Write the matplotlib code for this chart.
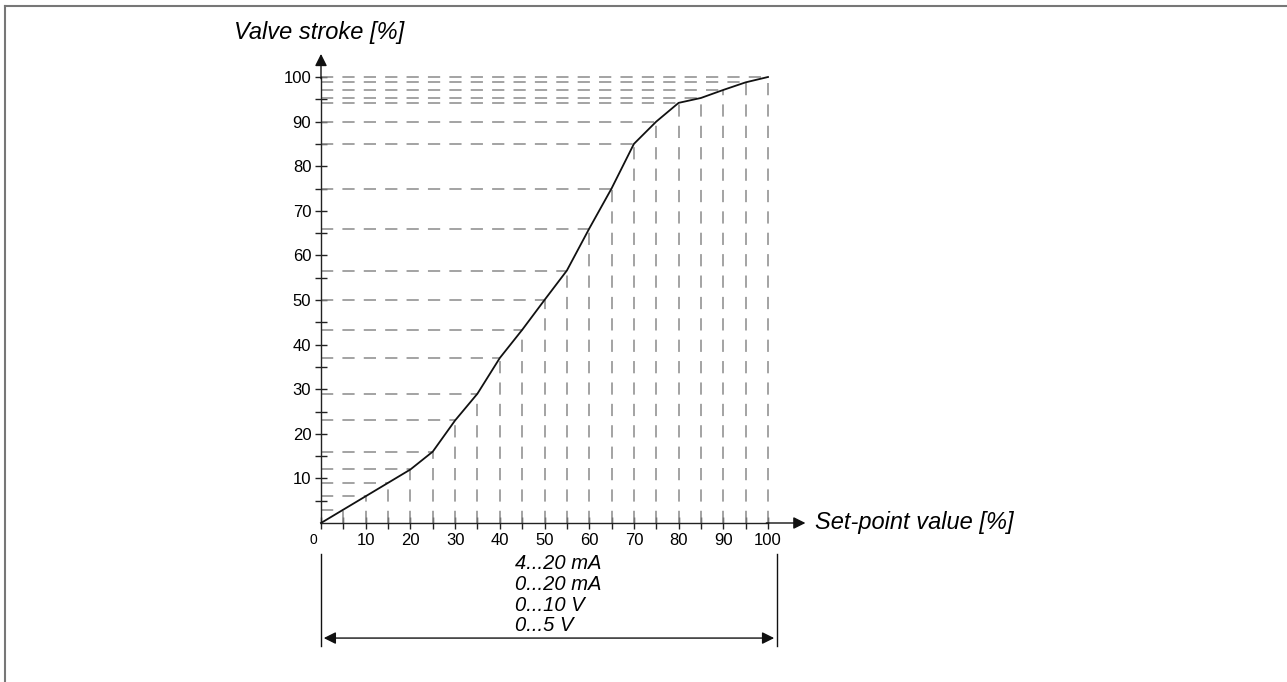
import numpy as np
import matplotlib.pyplot as plt
from matplotlib.lines import Line2D

plt.rcParams['font.family'] = ['Liberation Sans', 'DejaVu Sans']

# данні кривої (уставка -> хід клапана)
setpoint = [0, 5, 10, 15, 20, 25, 30, 35, 40, 45, 50, 55, 60, 65, 70, 75, 80, 85, 90, 95, 100]
stroke = [0, 3, 6, 9, 12, 16, 23, 29, 37, 43.3, 50, 56.6, 66, 75, 85, 90, 94.2, 95.3, 97.1, 98.8, 100]
x_ticks = list(range(0, 101, 5))
x_labels = ['' if v % 10 else str(v) for v in x_ticks]
x_labels[0] = ''
y_major = list(range(10, 101, 10))
y_minor = list(range(5, 101, 10))
signal_ranges = ['4...20 mA', '0...20 mA', '0...10 V', '0...5 V']

W, H = 1287, 682
fig = plt.figure(figsize=(W / 100, H / 100), dpi=100)

# рамка (тільки ліва і верхня)
fig.add_artist(Line2D([5 / W, 5 / W], [0, 1 - 6 / H], color='#777777', lw=1.5))
fig.add_artist(Line2D([5 / W, 1], [1 - 6 / H, 1 - 6 / H], color='#777777', lw=1.5))

x0, x1 = 321, 768
y0, y1 = 523, 77
ax = fig.add_axes([x0 / W, 1 - y0 / H, (x1 - x0) / W, (y0 - y1) / H])
ax.set_xlim(0, 100)
ax.set_ylim(0, 100)
for s in ['top', 'right']:
    ax.spines[s].set_visible(False)
for s in ['left', 'bottom']:
    ax.spines[s].set_linewidth(1.0)
    ax.spines[s].set_color('#222222')

gray = '#8a8a8a'
for xv, yv in zip(setpoint[1:], stroke[1:]):
    ax.plot([0, xv], [yv, yv], color=gray, lw=1.1, dashes=(8, 6), clip_on=False)
    ax.plot([xv, xv], [0, yv], color=gray, lw=1.1, dashes=(8, 6), clip_on=False)

ax.plot(setpoint, stroke, color='#111111', lw=1.3, clip_on=False, zorder=5)

ax.set_xticks(x_ticks)
ax.set_xticklabels(x_labels, fontsize=12)
ax.set_yticks(y_major)
ax.set_yticklabels([str(v) for v in y_major], fontsize=12)
ax.set_yticks(y_minor, minor=True)
ax.tick_params(axis='both', which='both', direction='inout', length=8, width=1.0, color='#222222')
ax.tick_params(axis='x', pad=3)
ax.tick_params(axis='y', pad=3)
ax.text(-1.8, -2.3, '0', fontsize=10, ha='center', va='top')

# стрілки осей
ax.annotate('', xy=(109, 0), xytext=(99, 0),
            arrowprops=dict(arrowstyle='-|>', color='#111111', lw=1.0, mutation_scale=18),
            annotation_clip=False)
ax.annotate('', xy=(0, 105.8), xytext=(0, 99),
            arrowprops=dict(arrowstyle='-|>', color='#111111', lw=1.0, mutation_scale=18),
            annotation_clip=False)

ax.text(110.5, 0, 'Set-point value [%]', fontsize=17, style='italic', ha='left', va='center')
ax.text(-19.5, 110, 'Valve stroke [%]', fontsize=17, style='italic', ha='left', va='center')

# розмірна лінія діапазонів сигналу
xr = 102
for xv in [0, xr]:
    ax.plot([xv, xv], [-7, -27.5], color='#111111', lw=1.0, clip_on=False)
ax.annotate('', xy=(0, -25.8), xytext=(xr, -25.8),
            arrowprops=dict(arrowstyle='<|-|>', color='#111111', lw=1.0, mutation_scale=18),
            annotation_clip=False)
for i, t in enumerate(signal_ranges):
    ax.text(43.5, -9.1 - i * 4.65, t, fontsize=14.5, style='italic', ha='left', va='center')

fig.savefig('out.png', dpi=100)
